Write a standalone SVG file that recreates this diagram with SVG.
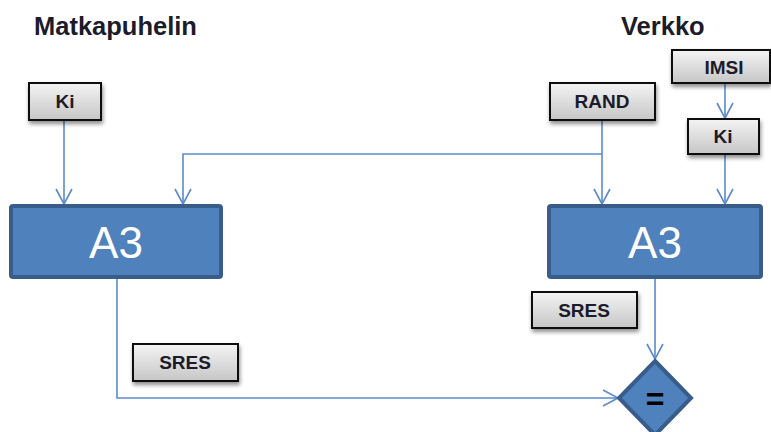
<svg xmlns="http://www.w3.org/2000/svg" width="771" height="432" viewBox="0 0 771 432">
<style>
.title{font-family:"Liberation Sans",Arial,sans-serif;font-weight:bold;font-size:25.5px;fill:#1b1b2a}
.lbl{font-family:"Liberation Sans",Arial,sans-serif;font-weight:bold;font-size:19px;fill:#1b1b2a;text-anchor:middle}
.box{fill:url(#g);stroke:#111;stroke-width:2;filter:url(#sh)}
.a3{fill:#4F81BD;stroke:#385D8A;stroke-width:4}
.a3t{font-family:"Liberation Sans",Arial,sans-serif;font-size:44px;fill:#fff;text-anchor:middle}
.con{fill:none;stroke:#5B8BC9;stroke-width:1.6}
</style>
<defs>
<linearGradient id="g" x1="0" y1="0" x2="0" y2="1">
<stop offset="0" stop-color="#f4f4f4"/>
<stop offset="1" stop-color="#c6c6c6"/>
</linearGradient>
<filter id="sh" x="-20%" y="-30%" width="140%" height="170%">
<feGaussianBlur in="SourceAlpha" stdDeviation="2"/>
<feOffset dx="1" dy="3" result="b"/>
<feComponentTransfer><feFuncA type="linear" slope="0.45"/></feComponentTransfer>
<feMerge><feMergeNode/><feMergeNode in="SourceGraphic"/></feMerge>
</filter>
<marker id="ar" markerWidth="22" markerHeight="22" refX="16" refY="9" orient="auto" markerUnits="userSpaceOnUse">
<polyline points="1,1 16,9 1,17" fill="none" stroke="#5B8BC9" stroke-width="1.6"/>
</marker>
</defs>
<text class="title" x="34" y="35">Matkapuhelin</text>
<text class="title" x="621" y="35">Verkko</text>
<g id="connectors">
<path class="con" d="M64,120 V204" marker-end="url(#ar)"/>
<path class="con" d="M602,120 V204" marker-end="url(#ar)"/>
<path class="con" d="M602,154 H183 V204" marker-end="url(#ar)"/>
<path class="con" d="M725,83 V118" marker-end="url(#ar)"/>
<path class="con" d="M725,154 V204" marker-end="url(#ar)"/>
<path class="con" d="M655,278 V359" marker-end="url(#ar)"/>
<path class="con" d="M117,278 V398 H618" marker-end="url(#ar)"/>
</g>
<g id="ki-left"><rect class="box" x="29" y="83" width="72" height="37"/><text class="lbl" x="65" y="108">Ki</text></g>
<g id="rand"><rect class="box" x="550" y="83" width="105" height="37"/><text class="lbl" x="602" y="108">RAND</text></g>
<g id="imsi"><rect class="box" x="672" y="50" width="98" height="33"/><text class="lbl" x="724" y="74">IMSI</text></g>
<g id="ki-right"><rect class="box" x="688" y="119" width="71" height="35"/><text class="lbl" x="723" y="143">Ki</text></g>
<g id="a3-left"><rect class="a3" x="11" y="206" width="210" height="71" rx="2"/><text class="a3t" x="116" y="258">A3</text></g>
<g id="a3-right"><rect class="a3" x="549" y="206" width="212" height="71" rx="2"/><text class="a3t" x="655" y="258">A3</text></g>
<g id="sres-right"><rect class="box" x="532" y="292" width="105" height="36"/><text class="lbl" x="584" y="317">SRES</text></g>
<g id="sres-left"><rect class="box" x="133" y="344" width="105" height="37"/><text class="lbl" x="185" y="369">SRES</text></g>
<g id="compare"><polygon class="a3" points="655,361 691,398 655,435 619,398" stroke-width="3.5"/><text x="655" y="410" font-family="Liberation Sans,Arial,sans-serif" font-weight="bold" font-size="32" fill="#000" text-anchor="middle">=</text></g>
</svg>
